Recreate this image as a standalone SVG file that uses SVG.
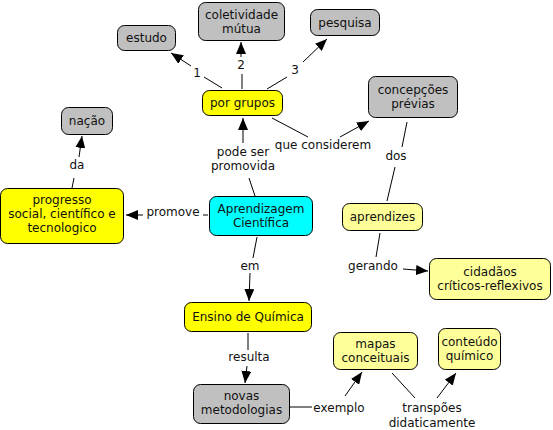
<svg xmlns="http://www.w3.org/2000/svg" width="553" height="430" viewBox="0 0 553 430">
<style>
text{font-family:"DejaVu Sans","Verdana",sans-serif;font-size:12px;fill:#111;text-anchor:middle;dominant-baseline:central}
.n rect{stroke:#000;stroke-width:1}
.y rect{fill:#ffff00}
.p rect{fill:#ffff99}
.g rect{fill:#c0c0c0}
.c rect{fill:#00ffff}
#connectors line{stroke:#000;stroke-width:1}
#connectors .a{marker-end:url(#ah)}
</style>
<defs>
<marker id="ah" viewBox="0 0 12 10" refX="12" refY="5" markerWidth="12" markerHeight="10" markerUnits="userSpaceOnUse" orient="auto">
<path d="M0,0 L12,5 L0,10 z" fill="#000"/>
</marker>
</defs>
<rect width="553" height="430" fill="#fff"/>
<g id="connectors">
<line x1="222" y1="88" x2="204" y2="77"/>
<text x="197" y="73">1</text>
<line class="a" x1="191" y1="66" x2="171" y2="53"/>
<line x1="242" y1="89" x2="242" y2="74"/>
<text x="241" y="65">2</text>
<line class="a" x1="241" y1="57" x2="241" y2="42"/>
<line x1="267" y1="89" x2="287" y2="77"/>
<text x="295" y="70">3</text>
<line class="a" x1="303" y1="62" x2="327" y2="39"/>
<line x1="255" y1="196" x2="249" y2="178"/>
<text x="243" y="152">pode ser</text>
<text x="243" y="166">promovida</text>
<line class="a" x1="243" y1="143" x2="243" y2="118"/>
<line x1="272" y1="118" x2="308" y2="137"/>
<text x="323" y="145">que considerem</text>
<line class="a" x1="340" y1="137" x2="369" y2="121"/>
<line x1="407" y1="122" x2="402" y2="147"/>
<text x="396" y="156">dos</text>
<line x1="395" y1="167" x2="387" y2="201"/>
<line x1="380" y1="233" x2="376" y2="257"/>
<text x="373" y="266">gerando</text>
<line class="a" x1="403" y1="269" x2="428" y2="271"/>
<line x1="208" y1="215" x2="203" y2="215"/>
<text x="173" y="212">promove</text>
<line class="a" x1="143" y1="215" x2="126" y2="215"/>
<line x1="72" y1="188" x2="74" y2="178"/>
<text x="77" y="165">da</text>
<line class="a" x1="79" y1="157" x2="82" y2="136"/>
<line x1="257" y1="237" x2="253" y2="258"/>
<text x="250" y="266">em</text>
<line class="a" x1="250" y1="273" x2="249" y2="301"/>
<line x1="248" y1="333" x2="248" y2="350"/>
<text x="249" y="357">resulta</text>
<line class="a" x1="247" y1="366" x2="245" y2="383"/>
<line x1="290" y1="407" x2="312" y2="407"/>
<text x="339" y="408">exemplo</text>
<line class="a" x1="345" y1="396" x2="362" y2="372"/>
<line x1="392" y1="373" x2="415" y2="398"/>
<text x="432" y="408">transpões</text>
<text x="432" y="423">didaticamente</text>
<line class="a" x1="437" y1="398" x2="456" y2="373"/>
</g>
<g id="estudo" class="n g"><rect x="117.5" y="25.5" width="58" height="25" rx="7"/><text x="146.5" y="38">estudo</text></g>
<g id="coletividade" class="n g"><rect x="198.5" y="2.5" width="86" height="38" rx="7"/><text x="241.5" y="15">coletividade</text><text x="241.5" y="29">mútua</text></g>
<g id="pesquisa" class="n g"><rect x="310.5" y="9.5" width="69" height="26" rx="7"/><text x="345" y="22.5">pesquisa</text></g>
<g id="porgrupos" class="n y"><rect x="202.5" y="90.5" width="80" height="25" rx="7"/><text x="242.5" y="103">por grupos</text></g>
<g id="nacao" class="n g"><rect x="61.5" y="107.5" width="51" height="27" rx="7"/><text x="87" y="121">nação</text></g>
<g id="concepcoes" class="n g"><rect x="368.5" y="76.5" width="89" height="41" rx="7"/><text x="413" y="90">concepções</text><text x="413" y="104">prévias</text></g>
<g id="progresso" class="n y"><rect x="0.5" y="188.5" width="123" height="55" rx="7"/><text x="62" y="200">progresso</text><text x="62" y="214">social, científico e</text><text x="62" y="228">tecnologico</text></g>
<g id="aprendizagem" class="n c"><rect x="209.5" y="196.5" width="103" height="39" rx="7"/><text x="261" y="209">Aprendizagem</text><text x="261" y="223">Científica</text></g>
<g id="aprendizes" class="n p"><rect x="342.5" y="203.5" width="80" height="27" rx="7"/><text x="382.5" y="217">aprendizes</text></g>
<g id="cidadaos" class="n p"><rect x="429.5" y="258.5" width="121" height="41" rx="7"/><text x="490" y="272">cidadãos</text><text x="490" y="286">críticos-reflexivos</text></g>
<g id="ensino" class="n y"><rect x="184.5" y="302.5" width="127" height="29" rx="7"/><text x="248" y="317">Ensino de Química</text></g>
<g id="novas" class="n g"><rect x="193.5" y="384.5" width="96" height="39" rx="7"/><text x="241.5" y="396">novas</text><text x="241.5" y="410">metodologias</text></g>
<g id="mapas" class="n p"><rect x="333.5" y="332.5" width="84" height="37" rx="7"/><text x="375.5" y="344">mapas</text><text x="375.5" y="358">conceituais</text></g>
<g id="conteudo" class="n p"><rect x="438.5" y="328.5" width="62" height="41" rx="7"/><text x="469.5" y="342">conteúdo</text><text x="469.5" y="356">químico</text></g>
</svg>
